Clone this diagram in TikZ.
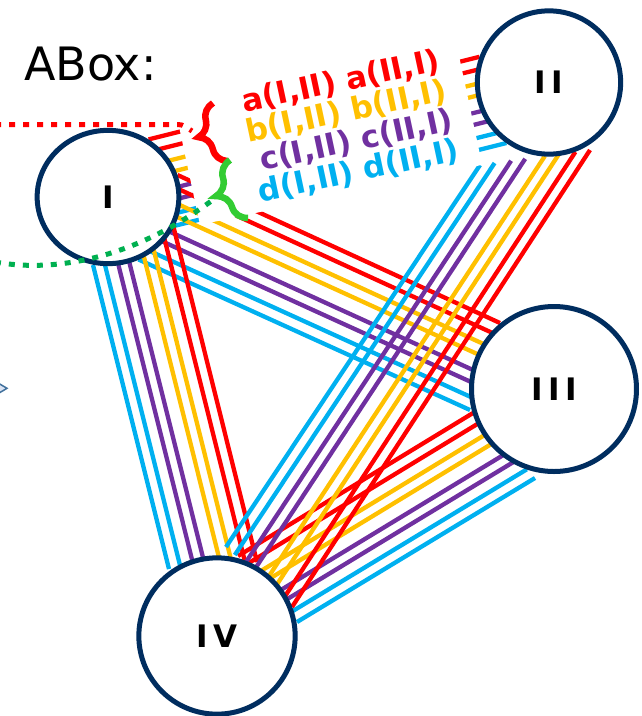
\documentclass[tikz,border=0pt]{standalone}
\usepackage{fontspec}
\setmainfont{DejaVu Sans}
\newfontfamily\romanfont[LetterSpace=18]{DejaVu Sans}
\usetikzlibrary{calc,backgrounds,shapes.geometric,decorations.pathreplacing}

\definecolor{navy}{RGB}{0,45,95}
\definecolor{ared}{RGB}{255,0,0}
\definecolor{borange}{RGB}{255,192,0}
\definecolor{cpurple}{RGB}{112,48,160}
\definecolor{dblue}{RGB}{0,176,240}
\definecolor{dotgreen}{RGB}{0,176,80}
\definecolor{bracegreen}{RGB}{51,204,51}
\definecolor{arrowline}{RGB}{65,113,156}
\definecolor{arrowfill}{RGB}{218,227,243}

% eight parallel lines: blue edge (#1,#3) to red edge (#2,#4)
\newcommand\bundle[4]{%
  \foreach \f/\col in {0/dblue,.133/dblue,.283/cpurple,.411/cpurple,.589/borange,.717/borange,.867/ared,1/ared}
    \draw[wire,color=\col] ($(#1)!\f!(#2)$) -- ($(#3)!\f!(#4)$);}

\begin{document}
\begin{tikzpicture}[x=1pt,y=-1pt,
    wire/.style={line width=4.3pt},
    dotline/.style={line width=5pt,dash pattern=on 6pt off 8pt},
    curly/.style={decorate,decoration={brace,amplitude=#1},line width=6.5pt}]

  \useasboundingbox (0,0) rectangle (641,716);
  \clip (0,0) rectangle (641,716);

  \begin{scope}[every node/.style={circle,draw=navy,line width=5pt,fill=white,inner sep=0pt,
      font=\romanfont\bfseries\fontsize{31}{31}\selectfont}]
    \node[ellipse,minimum width=141.7pt,minimum height=133.3pt] (I) at (108,197) {I};
    \node[minimum size=143.3pt] (II)  at (549,82.5) {II};
    \node[minimum size=165pt]   (III) at (554,389)  {III};
    \node[minimum size=156.3pt] (IV)  at (217,636)  {IV};
  \end{scope}

  \coordinate (I2b)  at ($(I)+(66,29)$);
  \coordinate (I2r)  at ($(I)+(40.6,-57.6)$);
  \coordinate (II1b) at ($(II)+(-42.6,60.5)$);
  \coordinate (II1r) at ($(II)+(-69.5,-25.7)$);

  \coordinate (I3b)   at ($(I)+(30.5,62.5)$);
  \coordinate (I3r)   at ($(I)+(69.5,-22)$);
  \coordinate (III1b) at ($(III)+(-84,21)$);
  \coordinate (III1r) at ($(III)+(-54,-66)$);

  \coordinate (I4b)  at ($(I)+(-15,68)$);
  \coordinate (I4r)  at ($(I)+(65.5,30)$);
  \coordinate (IV1b) at ($(IV)+(-48,-67)$);
  \coordinate (IV1r) at ($(IV)+(40,-74)$);

  \coordinate (II4b) at ($(II)+(-69,82.5)$);
  \coordinate (II4r) at ($(II)+(41,67.5)$);
  \coordinate (IV2b) at ($(IV)+(9,-89)$);
  \coordinate (IV2r) at ($(IV)+(75,-29)$);

  \coordinate (III4b) at ($(III)+(-19,89)$);
  \coordinate (III4r) at ($(III)+(-81,24)$);
  \coordinate (IV3b)  at ($(IV)+(80,-14)$);
  \coordinate (IV3r)  at ($(IV)+(21,-80)$);

  \begin{scope}[on background layer]
    \bundle{I2b}{I2r}{II1b}{II1r}
    \bundle{I3b}{I3r}{III1b}{III1r}
    \bundle{I4b}{I4r}{IV1b}{IV1r}
    \bundle{III4b}{III4r}{IV3b}{IV3r}
    \bundle{II4b}{II4r}{IV2b}{IV2r}
  \end{scope}

  \node[rotate=12,fill=white,text width=248.5pt,align=right,inner xsep=20pt,inner ysep=5pt,
      font=\bfseries\fontsize{31}{30.5}\selectfont] (lbl) at (327.6,131.5)
    {\textcolor{ared}{a(I,II) a(II,I)}\\
     \textcolor{borange}{b(I,II) b(II,I)}\\
     \textcolor{cpurple}{c(I,II) c(II,I)}\\
     \textcolor{dblue}{d(I,II) d(II,I)}};

  \draw[curly=22pt,ared]        (227,161) -- (213,103);
  \draw[curly=24pt,bracegreen]  (248,218) -- (230,160);

  \coordinate (redfar)    at (-5,124.5);
  \coordinate (redtip)    at (192,131);
  \coordinate (greenfar)  at (-5,262);
  \coordinate (greentip)  at (214,199);
  \draw[dotline,ared] (redfar) -- (178,124.5) to[out=0,in=150] (redtip);
  \draw[dotline,dotgreen] (greenfar) .. controls (50,272) and (130,262) .. (greentip);

  \node[anchor=base west,inner sep=0pt,font=\fontsize{46}{46}\selectfont] (abox) at (24,80) {ABox:};

  \draw[arrowline,fill=arrowfill,line width=1.5pt] (-12,377) -- (7,388.3) -- (-12,399.6) -- cycle;

\end{tikzpicture}
\end{document}
